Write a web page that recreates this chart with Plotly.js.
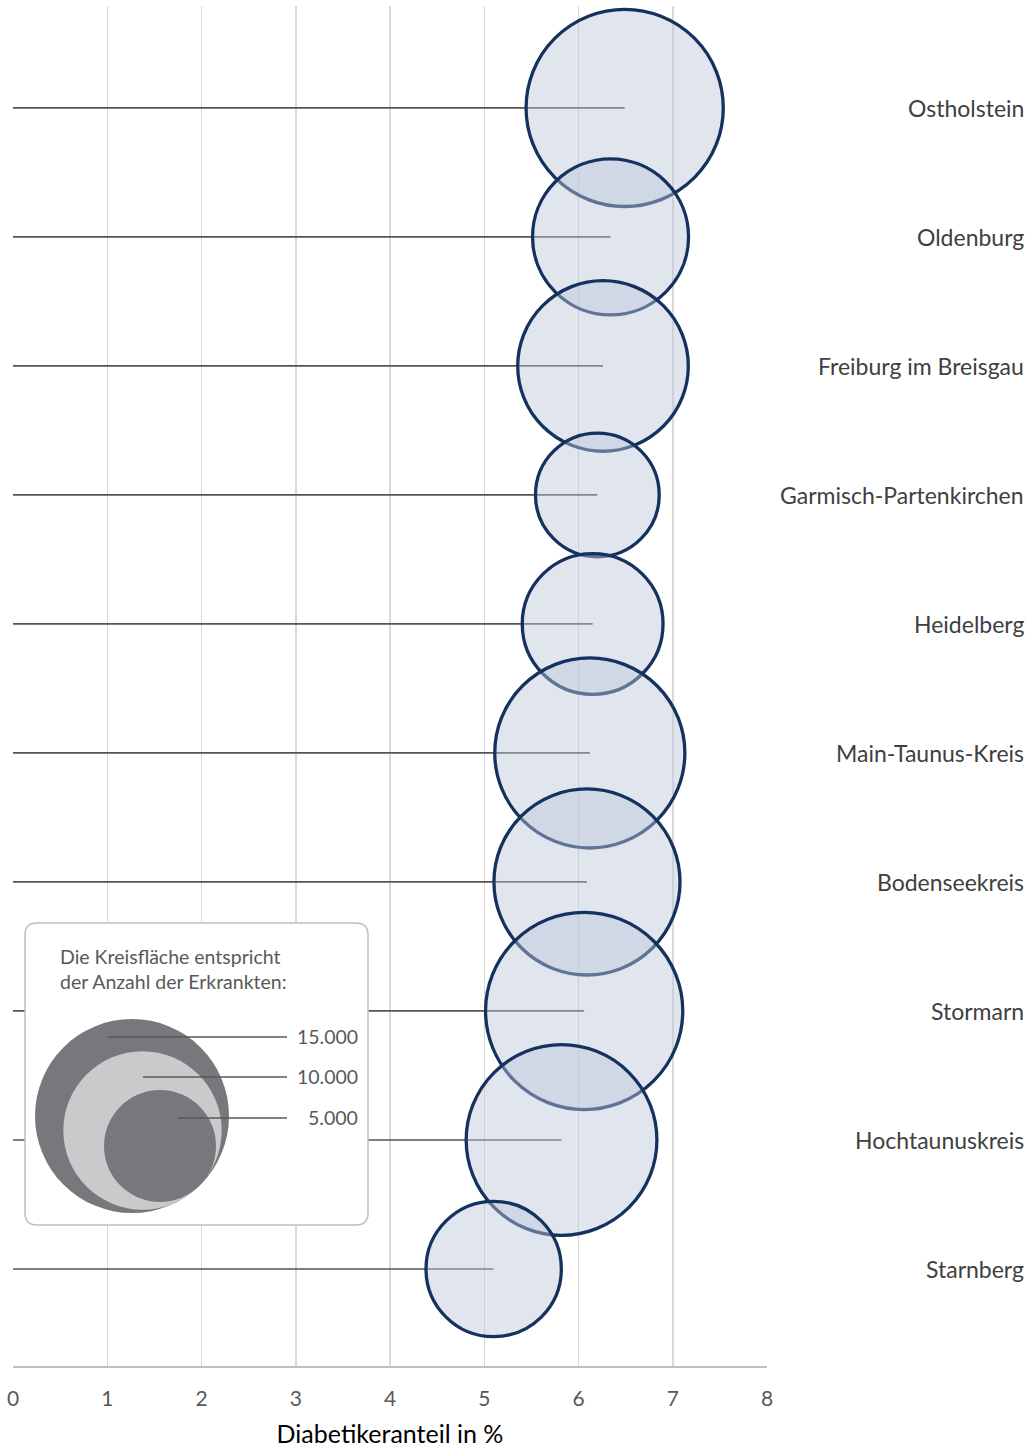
<!DOCTYPE html>
<html><head><meta charset="utf-8">
<script src="https://cdn.plot.ly/plotly-3.0.1.min.js"></script>
<style>html,body{margin:0;padding:0;background:#fff;} #chart{width:1032px;height:1450px;}</style>
</head><body><div id="chart"></div>
<script>
// ---------- data ----------
const categories = ['Ostholstein','Oldenburg','Freiburg im Breisgau','Garmisch-Partenkirchen','Heidelberg','Main-Taunus-Kreis','Bodenseekreis','Stormarn','Hochtaunuskreis','Starnberg'];
const diabetesShare = [6.49, 6.34, 6.26, 6.20, 6.15, 6.12, 6.09, 6.06, 5.82, 5.10];
const patientCount = [15500, 9700, 11600, 6100, 7900, 14400, 13800, 15500, 14500, 7300];
const keyValues = [15000, 10000, 5000];
const keyLabels = ['15.000', '10.000', '5.000'];
const xTickValues = [0, 1, 2, 3, 4, 5, 6, 7, 8];
const xTickLabels = ['0', '1', '2', '3', '4', '5', '6', '7', '8'];
const xAxisTitle = 'Diabetikeranteil in %';
const keyTitle = 'Die Kreisfläche entspricht<br>der Anzahl der Erkrankten:';

// ---------- layout helpers ----------
const W = 1032, H = 1450;
const M = {l: 13, r: 265, t: 6, b: 84};
const plotW = W - M.l - M.r, plotH = H - M.t - M.b;
const pxX = px => (px - M.l) / plotW;
const pxY = py => (H - M.b - py) / plotH;
const SIZEREF = 15000 / (2 * 97 * 97);
const FONT = 'Lato, "Open Sans", sans-serif';
const catOrder = categories.slice().reverse();

// key (legend) box in pixel-like coordinates of its own axes
const KB = {x0: 25, x1: 368, y0: 923, y1: 1225, r: 12};
const KD = {x0: 21, x1: 372, y0: 919, y1: 1229};
const keyCenters = {x: [132, 142.5, 160], y: [1116, 1130.5, 1146]};
const keyColors = ['#76787b', '#c9cacc', '#76787b'];
const keyLineStart = [108, 143, 178];
const keyLineEnd = 287;
const keyLineY = [1037, 1077, 1118];

// ---------- traces ----------
const lineX = [], lineY = [];
categories.forEach((c, i) => { lineX.push(0, diabetesShare[i], null); lineY.push(c, c, null); });

const traces = [
  {type: 'scatter', mode: 'lines', x: lineX, y: lineY, xaxis: 'x', yaxis: 'y',
   line: {color: '#555555', width: 1.7}, hoverinfo: 'skip', showlegend: false, cliponaxis: false},
  {type: 'scatter', mode: 'markers', x: diabetesShare, y: categories, xaxis: 'x', yaxis: 'y',
   marker: {size: patientCount, sizemode: 'area', sizeref: SIZEREF, opacity: 1,
            color: 'rgba(188,197,217,0.45)', line: {color: '#15325f', width: 3.3}},
   hoverinfo: 'skip', showlegend: false, cliponaxis: false},
  {type: 'scatter', mode: 'markers', x: keyCenters.x, y: keyCenters.y, xaxis: 'x2', yaxis: 'y2',
   marker: {size: keyValues, sizemode: 'area', sizeref: SIZEREF, color: keyColors, opacity: 1, line: {width: 0}},
   hoverinfo: 'skip', showlegend: false, cliponaxis: false}
];
keyValues.forEach((v, i) => {
  traces.push({type: 'scatter', mode: 'lines', x: [keyLineStart[i], keyLineEnd], y: [keyLineY[i], keyLineY[i]],
    xaxis: 'x2', yaxis: 'y2', line: {color: '#595959', width: 1.6}, hoverinfo: 'skip', showlegend: false, cliponaxis: false});
});

// ---------- annotations ----------
const annotations = categories.map(c => ({
  xref: 'paper', yref: 'y', x: pxX(1026), y: c, xanchor: 'right', yanchor: 'middle',
  text: c, showarrow: false, font: {family: FONT, size: 23, color: '#404040'}
}));
annotations.push({xref: 'x2', yref: 'y2', x: 58, y: 969, xanchor: 'left', yanchor: 'middle', align: 'left',
  text: keyTitle, showarrow: false, font: {family: FONT, size: 19.5, color: '#595959'}});
keyLabels.forEach((t, i) => annotations.push({xref: 'x2', yref: 'y2', x: 360, y: keyLineY[i] - 1,
  xanchor: 'right', yanchor: 'middle', text: t, showarrow: false, font: {family: FONT, size: 19.5, color: '#595959'}}));

const roundRect = `M ${KB.x0 + KB.r},${KB.y0} H ${KB.x1 - KB.r} Q ${KB.x1},${KB.y0} ${KB.x1},${KB.y0 + KB.r} ` +
  `V ${KB.y1 - KB.r} Q ${KB.x1},${KB.y1} ${KB.x1 - KB.r},${KB.y1} H ${KB.x0 + KB.r} ` +
  `Q ${KB.x0},${KB.y1} ${KB.x0},${KB.y1 - KB.r} V ${KB.y0 + KB.r} Q ${KB.x0},${KB.y0} ${KB.x0 + KB.r},${KB.y0} Z`;

const layout = {
  width: W, height: H, margin: M,
  paper_bgcolor: '#ffffff', plot_bgcolor: 'rgba(0,0,0,0)',
  hovermode: false, showlegend: false,
  font: {family: FONT, color: '#595959'},
  xaxis: {range: [0, 8], tickvals: xTickValues, ticktext: xTickLabels, showgrid: true, gridcolor: '#d9d9d9', gridwidth: 1.5,
    zeroline: false, showline: true, linecolor: '#bfbfbf', linewidth: 1.5, ticks: '', ticklabelstandoff: 13,
    tickfont: {family: FONT, size: 21, color: '#595959'}, fixedrange: true,
    title: {text: xAxisTitle, font: {family: FONT, size: 25, color: '#000000'}, standoff: 17}},
  yaxis: {type: 'category', categoryorder: 'array', categoryarray: catOrder,
    range: [-0.752, 9.79], showgrid: false, zeroline: false, showline: false, showticklabels: false, ticks: '', fixedrange: true},
  xaxis2: {domain: [pxX(KD.x0), pxX(KD.x1)], range: [KD.x0, KD.x1], anchor: 'y2', visible: false, fixedrange: true},
  yaxis2: {domain: [pxY(KD.y1), pxY(KD.y0)], range: [KD.y1, KD.y0], anchor: 'x2', visible: false, fixedrange: true},
  shapes: [{type: 'path', xref: 'x2', yref: 'y2', layer: 'below', path: roundRect,
    fillcolor: '#ffffff', line: {color: '#bfbfbf', width: 1.5}}],
  annotations: annotations
};

Plotly.newPlot('chart', traces, layout, {staticPlot: true, displayModeBar: false});
</script>
</body></html>
